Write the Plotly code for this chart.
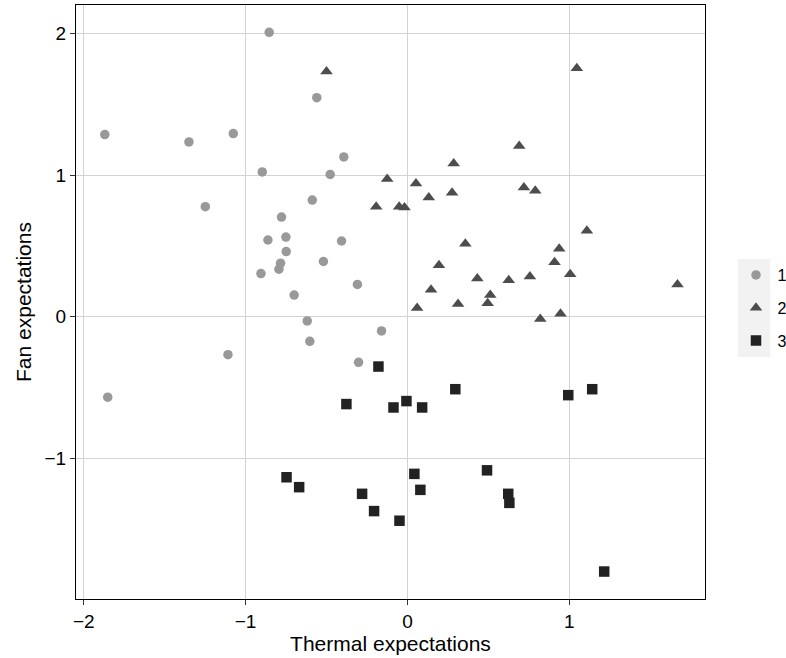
import plotly.graph_objects as go

# Cluster 1 (circles)
x1 = [-0.854, -0.560, -1.870, -1.350, -1.076, -0.393, -0.897, -0.477, -1.249, -0.588,
      -0.778, -0.862, -0.751, -0.407, -0.749, -0.519, -0.784, -0.794, -0.905, -0.309,
      -0.700, -0.619, -0.160, -0.603, -1.109, -0.302, -1.852]
y1 = [2.009, 1.547, 1.287, 1.235, 1.294, 1.129, 1.023, 1.005, 0.777, 0.824,
      0.704, 0.542, 0.563, 0.535, 0.460, 0.390, 0.378, 0.336, 0.305, 0.228,
      0.153, -0.030, -0.100, -0.174, -0.268, -0.322, -0.568]

# Cluster 2 (triangles)
x2 = [-0.500, -0.125, -0.193, 1.047, 0.691, 0.286, 0.053, 0.720, 0.790, 0.132,
      0.276, -0.051, -0.018, 1.109, 0.358, 0.938, 0.909, 0.195, 0.432, 0.626,
      0.757, 1.006, 1.669, 0.146, 0.512, 0.496, 0.313, 0.060, 0.946, 0.821]
y2 = [1.732, 0.972, 0.777, 1.756, 1.206, 1.082, 0.941, 0.913, 0.890, 0.843,
      0.876, 0.777, 0.772, 0.608, 0.516, 0.481, 0.385, 0.364, 0.270, 0.258,
      0.284, 0.300, 0.228, 0.190, 0.153, 0.096, 0.089, 0.061, 0.021, -0.016]

# Cluster 3 (squares)
x3 = [-0.179, -0.377, -0.747, -0.669, -0.280, -0.206, -0.086, -0.006, 0.091, 0.296,
      0.994, 1.142, 0.043, 0.080, 0.492, 0.623, 0.630, -0.049, 1.216]
y3 = [-0.352, -0.617, -1.134, -1.204, -1.251, -1.373, -0.641, -0.596, -0.641, -0.512,
      -0.554, -0.512, -1.110, -1.223, -1.085, -1.251, -1.315, -1.441, -1.800]

cluster_names = ["1", "2", "3"]
x_ticks = [-2, -1, 0, 1]
y_ticks = [-1, 0, 1, 2]
x_tick_text = ["\u22122", "\u22121", "0", "1"]
y_tick_text = ["\u22121", "0", "1", "2"]

FONT = "Liberation Sans, Arial, sans-serif"

fig = go.Figure()
styles = [
    dict(symbol="circle", color="#999999", size=9.5),
    dict(symbol="triangle-up", color="#4D4D4D", size=11),
    dict(symbol="square", color="#222222", size=10.5),
]
for name, xs, ys, st in zip(cluster_names, [x1, x2, x3], [y1, y2, y3], styles):
    fig.add_trace(go.Scatter(
        x=xs, y=ys, mode="markers", name=name, legendgroup=name,
        marker=dict(symbol=st["symbol"], color=st["color"], size=st["size"],
                    line=dict(width=0)),
    ))

L, R, T, B = 76, 81, 5, 59
W, H = 786, 658
pw, ph = W - L - R, H - T - B

def px_x(p):
    return (p - L) / pw

def px_y(p):
    return (H - B - p) / ph

# legend key background (ggplot style)
fig.add_shape(type="rect", xref="paper", yref="paper",
              x0=px_x(737.7), x1=px_x(770.3), y0=px_y(357), y1=px_y(259),
              fillcolor="#F2F2F2", line=dict(width=0), layer="below")

axis_common = dict(
    showgrid=True, gridcolor="#D3D3D3", gridwidth=1.4,
    zeroline=False, showline=True, linecolor="#000000", linewidth=1.2, mirror=True,
    ticks="outside", ticklen=5, tickcolor="#333333", tickwidth=1.1,
    tickfont=dict(family=FONT, size=19, color="#000000"),
)

fig.update_xaxes(range=[-2.048, 1.839], tickmode="array", tickvals=x_ticks,
                 ticktext=x_tick_text,
                 title=dict(text="Thermal expectations", font=dict(family=FONT, size=21, color="#000000"), standoff=2),
                 **axis_common)
fig.update_yaxes(range=[-1.994, 2.202], tickmode="array", tickvals=y_ticks,
                 ticktext=y_tick_text,
                 title=dict(text="Fan expectations", font=dict(family=FONT, size=21, color="#000000"), standoff=7),
                 **axis_common)

fig.update_layout(
    width=W, height=H,
    margin=dict(l=L, r=R, t=T, b=B, autoexpand=False),
    paper_bgcolor="white", plot_bgcolor="white",
    font=dict(family=FONT, color="#000000"),
    legend=dict(x=px_x(734.5), xanchor="left", y=px_y(308), yanchor="middle",
                bgcolor="rgba(0,0,0,0)", borderwidth=0, tracegroupgap=9,
                itemwidth=33,
                font=dict(family=FONT, size=16, color="#000000")),
    showlegend=True,
)

fig.write_html("out.html")
